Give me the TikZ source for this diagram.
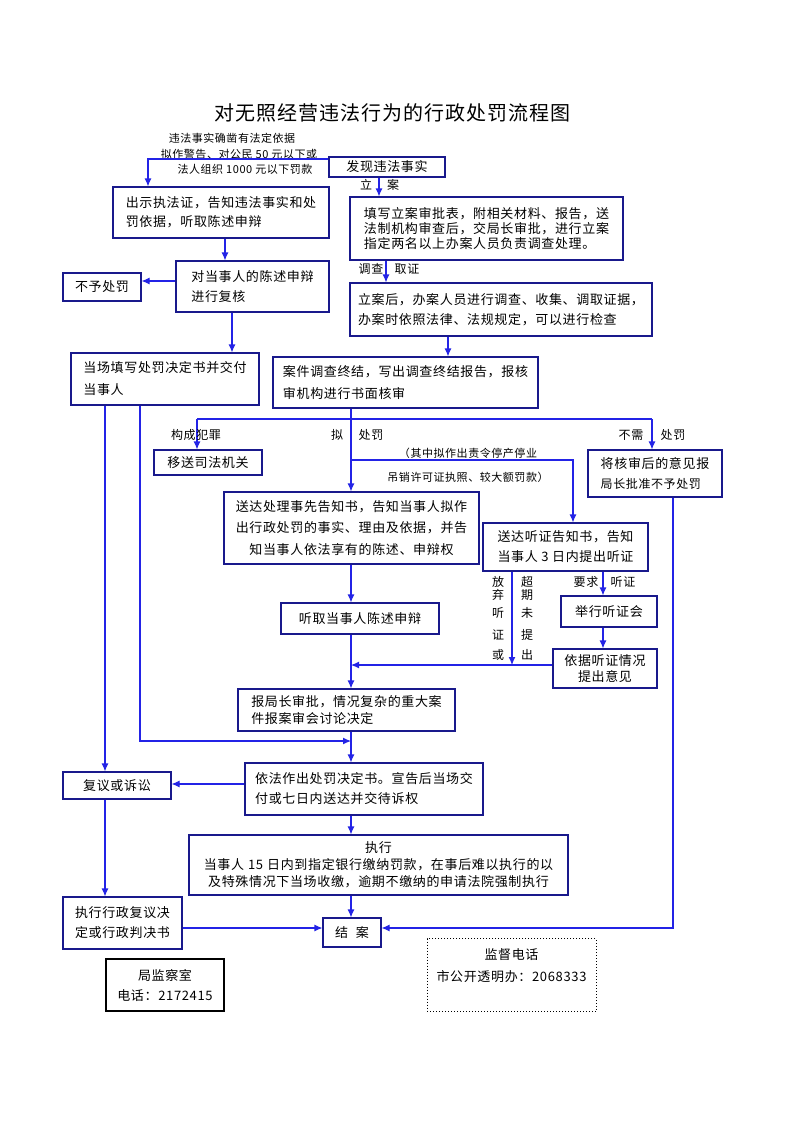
\documentclass[tikz,border=0pt]{standalone}
\usepackage{fontspec}
\setmainfont{Noto Sans CJK SC}[LetterSpace=5]
\usetikzlibrary{arrows.meta}
\definecolor{bxc}{RGB}{25,25,140}
\definecolor{lnc}{RGB}{35,35,230}
\begin{document}
\begin{tikzpicture}[x=1pt,y=-1pt,
  box/.style={draw=bxc,line width=1.1pt,inner sep=0pt,align=left,font=\fontsize{13}{20}\selectfont},
  cbox/.style={box,align=center},
  lab/.style={inner sep=0pt,font=\fontsize{12}{14}\selectfont},
  sm/.style={inner sep=0pt,font=\fontsize{11}{13}\selectfont},
  conn/.style={draw=lnc,line width=1.1pt},
  arr/.style={conn,-{Latex[length=8pt,width=7pt]}}]
\useasboundingbox (0,0) rectangle (793,1122);
\fill[white] (0,0) rectangle (793,1122);

\node[inner sep=0pt,font=\fontsize{20}{24}\selectfont] (title) at (392,113) {对无照经营违法行为的行政处罚流程图};

% notes
\node[sm] (n1) at (232,138) {违法事实确凿有法定依据};
\node[sm] (n2) at (239,154) {拟作警告、对公民 50 元以下或};
\node[sm] (n3) at (245,169) {法人组织 1000 元以下罚款};

% boxes
\node[box,minimum width=116,minimum height=20] (find) at (387,167) {发现违法事实};
\node[box,minimum width=216,minimum height=51,font=\fontsize{13}{19}\selectfont] (show) at (221,212.5) {出示执法证，告知违法事实和处\\罚依据，听取陈述申辩};
\node[box,minimum width=153,minimum height=51] (review) at (252.5,286.5) {对当事人的陈述申辩\\进行复核};
\node[box,minimum width=78,minimum height=28] (nopen) at (102,287) {不予处罚};
\node[box,minimum width=188,minimum height=52,font=\fontsize{13}{22}\selectfont] (onsite) at (165,379) {当场填写处罚决定书并交付\\当事人};
\node[box,minimum width=273,minimum height=63,font=\fontsize{13}{15}\selectfont] (file) at (486.5,228.5) {填写立案审批表，附相关材料、报告，送\\法制机构审查后，交局长审批，进行立案\\指定两名以上办案人员负责调查处理。};
\node[box,minimum width=302,minimum height=53] (invest) at (501,309.5) {立案后，办案人员进行调查、收集、调取证据，\\办案时依照法律、法规规定，可以进行检查};
\node[box,minimum width=265,minimum height=51,font=\fontsize{13}{22}\selectfont] (concl) at (405.5,382.5) {案件调查终结，写出调查终结报告，报核\\审机构进行书面核审};
\node[box,minimum width=108,minimum height=25] (transfer) at (208,462.5) {移送司法机关};
\node[box,minimum width=134,minimum height=47] (report) at (655,473.5) {将核审后的意见报\\{\fontsize{12}{20}\selectfont 局长批准不予处罚}};
\node[cbox,minimum width=255,minimum height=72,font=\fontsize{13}{21.5}\selectfont] (notify) at (351.5,528) {送达处理事先告知书，告知当事人拟作\\出行政处罚的事实、理由及依据，并告\\知当事人依法享有的陈述、申辩权};
\node[cbox,minimum width=165,minimum height=48] (hearnot) at (565.5,547) {送达听证告知书，告知\\当事人 3 日内提出听证};
\node[box,minimum width=158,minimum height=31] (listen) at (360,618.5) {听取当事人陈述申辩};
\node[box,minimum width=96,minimum height=31] (hold) at (609,611.5) {举行听证会};
\node[cbox,minimum width=104,minimum height=39,font=\fontsize{13}{15.5}\selectfont] (opinion) at (605,668.5) {依据听证情况\\提出意见};
\node[box,minimum width=217,minimum height=42,font=\fontsize{13}{17}\selectfont] (approve) at (346.5,710) {报局长审批，情况复杂的重大案\\件报案审会讨论决定};
\node[box,minimum width=238,minimum height=52] (decide) at (364,789) {依法作出处罚决定书。宣告后当场交\\付或七日内送达并交待诉权};
\node[box,minimum width=108,minimum height=27] (appeal) at (117,785.5) {复议或诉讼};
\node[cbox,minimum width=379,minimum height=60,font=\fontsize{13}{17}\selectfont] (exec) at (378.5,865) {执行\\当事人\hspace{4pt}15\hspace{4pt}日内到指定银行缴纳罚款，在事后难以执行的以\\及特殊情况下当场收缴，逾期不缴纳的申请法院强制执行};
\node[box,minimum width=119,minimum height=52] (enforce) at (122.5,923) {执行行政复议决\\定或行政判决书};
\node[box,minimum width=58,minimum height=29] (close) at (352,932.5) {结\hspace{8pt}案};
\node[cbox,draw=black,minimum width=118,minimum height=52] (office) at (165,985) {局监察室\\电话：2172415};
\node[draw=black,line width=1pt,dotted,minimum width=169,minimum height=73,inner sep=0pt] (hotline) at (511.5,975) {};
\node[inner sep=0pt,align=center,font=\fontsize{13}{22}\selectfont] (hottext) at (511.5,966) {监督电话\\市公开透明办：2068333};

% connectors
\coordinate (ca) at (148,159);
\draw[arr] (find.west |- ca) -- (ca) -- (ca |- show.north);
\coordinate (xa) at (379,0);
\draw[arr] (find.south -| xa) -- (file.north -| xa);
\coordinate (xb) at (386,0);
\draw[arr] (file.south -| xb) -- (invest.north -| xb);
\coordinate (xc) at (448,0);
\draw[arr] (invest.south -| xc) -- (concl.north -| xc);
\coordinate (xd) at (225,0);
\draw[arr] (show.south -| xd) -- (review.north -| xd);
\coordinate (ya) at (0,281);
\draw[arr] (review.west |- ya) -- (nopen.east |- ya);
\coordinate (xe) at (232,0);
\draw[arr] (review.south -| xe) -- (onsite.north -| xe);
\coordinate (xm) at (351,0);
\draw[arr] (concl.south -| xm) -- (notify.north -| xm);
\coordinate (ha) at (197,419);
\coordinate (hb) at (652,419);
\draw[conn] (ha) -- (hb);
\draw[arr] (ha) -- (ha |- transfer.north);
\draw[arr] (hb) -- (hb |- report.north);
\coordinate (hc) at (351,460);
\coordinate (hd) at (573,460);
\draw[arr] (hc) -- (hd) -- (hd |- hearnot.north);
\draw[arr] (notify.south -| xm) -- (listen.north -| xm);
\draw[arr] (listen.south -| xm) -- (approve.north -| xm);
\coordinate (xf) at (512,0);
\coordinate (yb) at (0,665);
\draw[arr] (hearnot.south -| xf) -- (xf |- yb);
\draw[arr] (opinion.west |- yb) -- (xm |- yb);
\coordinate (xg) at (603,0);
\draw[arr] (hearnot.south -| xg) -- (hold.north -| xg);
\draw[arr] (hold.south -| xg) -- (opinion.north -| xg);
\coordinate (xh) at (105,0);
\coordinate (ci) at (140,741);
\draw[arr] (onsite.south -| xh) -- (appeal.north -| xh);
\draw[arr] (onsite.south -| ci) -- (ci) -- (xm |- ci);
\draw[arr] (approve.south -| xm) -- (decide.north -| xm);
\coordinate (yc) at (0,784);
\draw[arr] (decide.west |- yc) -- (appeal.east |- yc);
\draw[arr] (appeal.south -| xh) -- (enforce.north -| xh);
\draw[arr] (decide.south -| xm) -- (exec.north -| xm);
\draw[arr] (exec.south -| xm) -- (close.north -| xm);
\coordinate (yd) at (0,928);
\draw[arr] (enforce.east |- yd) -- (close.west |- yd);
\coordinate (xi) at (673,0);
\draw[arr] (report.south -| xi) -- (xi |- yd) -- (close.east |- yd);

% labels
\node[lab] (l1) at (366,185) {立};
\node[lab] (l2) at (393,185) {案};
\node[lab] (l3) at (371,269) {调查};
\node[lab] (l4) at (407,269) {取证};
\node[lab] (l5) at (196,435) {构成犯罪};
\node[lab] (l6) at (337,435) {拟};
\node[lab] (l7) at (371,435) {处罚};
\node[lab] (l8) at (631,435) {不需};
\node[lab] (l9) at (673,435) {处罚};
\node[sm] (n4) at (468,453) {（其中拟作出责令停产停业};
\node[sm] (n5) at (468,477) {吊销许可证执照、较大额罚款）};
\node[lab] (v1) at (498,582) {放};
\node[lab] (v2) at (498,595) {弃};
\node[lab] (v3) at (498,613) {听};
\node[lab] (v4) at (498,635) {证};
\node[lab] (v5) at (498,655) {或};
\node[lab] (w1) at (527,582) {超};
\node[lab] (w2) at (527,595) {期};
\node[lab] (w3) at (527,613) {未};
\node[lab] (w4) at (527,635) {提};
\node[lab] (w5) at (527,655) {出};
\node[lab] (l10) at (586,582) {要求};
\node[lab] (l11) at (623,582) {听证};
\end{tikzpicture}
\end{document}
